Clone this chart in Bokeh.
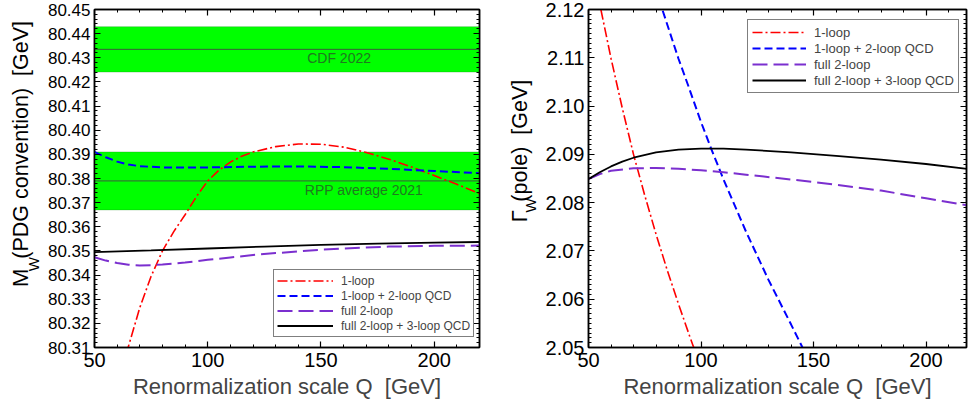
import math
from bokeh.plotting import figure
from bokeh.layouts import row
from bokeh.models import (Range1d, LinearAxis, SingleIntervalTicker, NumeralTickFormatter,
                          BoxAnnotation, Span, Label, CustomLabelingPolicy)
from bokeh.embed import file_html
from bokeh.resources import INLINE

FONT = "Liberation Sans"
H = 407

# ---------------- data: left panel (M_W, PDG convention) ----------------
mw_q_1l = [62, 65, 70, 75, 80, 85, 90, 95, 100, 105, 110, 115, 120, 130, 140, 150, 160, 170, 180, 190, 200, 210, 220]
mw_1l = [80.3000, 80.3105, 80.3265, 80.3395, 80.3500, 80.3580, 80.3650, 80.3725, 80.3790, 80.3835, 80.3868,
         80.3892, 80.3910, 80.3932, 80.3943, 80.3942, 80.3930, 80.3908, 80.3880, 80.3848, 80.3812, 80.3776, 80.3738]
mw_q_1l2q = [50, 55, 60, 65, 70, 80, 90, 100, 120, 140, 160, 180, 200, 220]
mw_1l2q = [80.3910, 80.3888, 80.3870, 80.3858, 80.3851, 80.3846, 80.3845, 80.3846, 80.3849, 80.3850,
           80.3847, 80.3840, 80.3831, 80.3822]
mw_q_2l = [50, 55, 60, 65, 70, 75, 80, 90, 100, 110, 120, 130, 140, 150, 165, 180, 200, 220]
mw_2l = [80.3474, 80.3460, 80.3450, 80.3443, 80.3440, 80.3441, 80.3444, 80.3452, 80.3463, 80.3473, 80.3483,
         80.3491, 80.3498, 80.3505, 80.3512, 80.3518, 80.3521, 80.3522]
mw_q_2l3q = [50, 75, 100, 125, 150, 175, 200, 220]
mw_2l3q = [80.3495, 80.3502, 80.3510, 80.3518, 80.3525, 80.3530, 80.3534, 80.3537]

cdf_value, cdf_err = 80.4335, 0.0094
rpp_value, rpp_err = 80.379, 0.012

# ---------------- data: right panel (Gamma_W, pole) ----------------
gw_q_1l = [54, 55.5, 60, 65, 70, 75, 80, 85, 90, 95, 97, 100]
gw_1l = [2.1236, 2.1200, 2.1099, 2.0996, 2.0900, 2.0815, 2.0735, 2.0660, 2.0590, 2.0523, 2.0497, 2.0460]
gw_q_1l2q = [80, 82.8, 90, 94.5, 100, 104.5, 110, 120, 130, 140, 145, 150]
gw_1l2q = [2.1245, 2.1200, 2.1098, 2.1040, 2.0967, 2.0912, 2.0848, 2.0740, 2.0640, 2.0548, 2.0501, 2.0462]
gw_q_2l = [50, 55, 60, 70, 80, 90, 100, 110, 120, 140, 160, 180, 200, 220]
gw_2l = [2.0849, 2.0859, 2.0866, 2.0871, 2.0872, 2.0870, 2.0867, 2.0863, 2.0858, 2.0848, 2.0837, 2.0825,
         2.0809, 2.0793]
gw_q_2l3q = [50, 55, 60, 65, 70, 80, 90, 100, 110, 120, 140, 160, 180, 200, 220]
gw_2l3q = [2.0849, 2.0863, 2.0875, 2.0885, 2.0893, 2.0904, 2.0910, 2.0912, 2.0912, 2.0910, 2.0904, 2.0897,
           2.0889, 2.0880, 2.0869]

legend_labels = ["1-loop", "1-loop + 2-loop QCD", "full 2-loop", "full 2-loop + 3-loop QCD"]
colors = ["#ff0000", "#0000ff", "#7b2fcf", "#000000"]
dashes = ["10 3 2 3", "8 4", "15 6", "solid"]
widths = [1.6, 2.0, 2.0, 1.8]

HIDE_ALL = "for (let i = 0; i < indices.size; i++) { indices.set(i, false) }\nreturn indices"


def style_axis(ax, ticker, fmt, size, show_labels=True):
    ax.ticker = ticker
    if fmt is not None:
        ax.formatter = fmt
    ax.major_tick_in = 6
    ax.major_tick_out = 0
    ax.minor_tick_in = 3
    ax.minor_tick_out = 0
    ax.axis_line_width = 1.5
    ax.axis_line_color = "black"
    ax.major_tick_line_width = 1.2
    ax.minor_tick_line_width = 1.0
    ax.major_tick_line_color = "black"
    ax.minor_tick_line_color = "black"
    ax.major_label_text_font = FONT
    ax.major_label_text_color = "black"
    if show_labels:
        ax.major_label_text_font_size = size
    else:
        ax.major_label_text_font_size = "1px"
        ax.major_label_standoff = 0
        ax.major_label_policy = CustomLabelingPolicy(code=HIDE_ALL)


def make_panel(width, border_left, border_right, xr, yr, y_interval, y_minor, y_font, y_fmt):
    p = figure(width=width, height=H, x_range=Range1d(*xr), y_range=Range1d(*yr),
               output_backend="svg", toolbar_location=None,
               min_border_left=border_left, min_border_right=border_right,
               min_border_top=9, min_border_bottom=60)
    p.xgrid.visible = False
    p.ygrid.visible = False
    p.outline_line_color = "black"
    p.outline_line_width = 1.5
    xt = SingleIntervalTicker(interval=50, num_minor_ticks=5)
    yt = SingleIntervalTicker(interval=y_interval, num_minor_ticks=y_minor)
    style_axis(p.xaxis[0], xt, NumeralTickFormatter(format="0"), "20px")
    p.xaxis[0].major_label_standoff = 5
    p.xaxis[0].axis_label = "Renormalization scale Q\u00a0 [GeV]"
    p.xaxis[0].axis_label_text_font = FONT
    p.xaxis[0].axis_label_text_font_size = "22px"
    p.xaxis[0].axis_label_text_font_style = "normal"
    p.xaxis[0].axis_label_standoff = 4
    style_axis(p.yaxis[0], yt, NumeralTickFormatter(format=y_fmt), y_font)
    p.yaxis[0].major_label_standoff = 4
    top = LinearAxis()
    style_axis(top, SingleIntervalTicker(interval=50, num_minor_ticks=5), None, "1px", show_labels=False)
    p.add_layout(top, "above")
    right = LinearAxis()
    style_axis(right, SingleIntervalTicker(interval=y_interval, num_minor_ticks=y_minor), None, "1px",
               show_labels=False)
    p.add_layout(right, "right")
    return p


def label_strip(width, pieces):
    """Narrow text-only figure holding a vertical axis title with a subscript.
    Each piece: (text, centre x, centre y, font size) in pixels from the strip's top-left corner."""
    s = figure(width=width, height=H, x_range=Range1d(0, width), y_range=Range1d(0, H),
               output_backend="svg", toolbar_location=None, min_border=0,
               x_axis_location=None, y_axis_location=None)
    s.xgrid.visible = False
    s.ygrid.visible = False
    s.outline_line_color = None
    for text, cx, cy, size in pieces:
        s.add_layout(Label(x=cx, y=H - cy, text=text, angle=math.pi / 2, text_font=FONT,
                           text_color="black", text_align="center", text_baseline="middle",
                           text_font_size=size))
    return s


def style_legend(p, loc, font_size, glyph_w, row_h, pad):
    lg = p.legend[0]
    lg.location = loc
    lg.label_text_font = FONT
    lg.label_text_font_size = font_size
    lg.glyph_width = glyph_w
    lg.glyph_height = row_h
    lg.label_height = row_h
    lg.label_standoff = 8
    lg.padding = pad
    lg.spacing = 0
    lg.margin = 0
    lg.border_line_color = "black"
    lg.border_line_width = 1
    lg.background_fill_alpha = 1.0


# ---------------- left panel ----------------
s1 = label_strip(44, [("M", 20.3, 323.0, "22px"),
                      ("W", 33.0, 306.8, "15px"),
                      ("(PDG convention)\u00a0\u00a0[GeV]", 20.3, 157.0, "21.5px")])
p1 = make_panel(446, 47, 11, (50, 220), (80.31, 80.45), 0.01, 5, "17px", "0.00")

for val, err in [(cdf_value, cdf_err), (rpp_value, rpp_err)]:
    p1.add_layout(BoxAnnotation(bottom=val - err, top=val + err, fill_color="#00ff00", fill_alpha=1.0,
                                line_color="#138a13", line_width=1, level="underlay"))
    p1.add_layout(Span(location=val, dimension="width", line_color="#3d5a3d", line_width=1, level="underlay"))

band_text = dict(text_font=FONT, text_font_size="14px", text_color="#1f7a1f", text_align="center",
                 text_baseline="middle")
p1.add_layout(Label(x=158, y=cdf_value - 0.0034, text="CDF 2022", **band_text))
p1.add_layout(Label(x=169, y=rpp_value - 0.0036, text="RPP average 2021", **band_text))

left_series = [(mw_q_1l, mw_1l), (mw_q_1l2q, mw_1l2q), (mw_q_2l, mw_2l), (mw_q_2l3q, mw_2l3q)]
for (q, v), lab, c, d, w in zip(left_series, legend_labels, colors, dashes, widths):
    p1.line(q, v, line_color=c, line_dash=d, line_width=w, legend_label=lab)
style_legend(p1, (179, 10), "12px", 56, 15, 3)

# ---------------- right panel ----------------
s2 = label_strip(50, [("\u0393", 29.3, 249.0, "22px"),
                      ("W", 40.0, 235.8, "15px"),
                      ("(pole)\u00a0\u00a0[GeV]", 29.3, 158.0, "21.5px")])
p2 = make_panel(431, 48, 0, (50, 218), (2.05, 2.12), 0.01, 10, "20px", "0.00")
right_series = [(gw_q_1l, gw_1l), (gw_q_1l2q, gw_1l2q), (gw_q_2l, gw_2l), (gw_q_2l3q, gw_2l3q)]
for (q, v), lab, c, d, w in zip(right_series, legend_labels, colors, dashes, widths):
    p2.line(q, v, line_color=c, line_dash=d, line_width=w, legend_label=lab)
style_legend(p2, (159, 254), "13px", 54, 16, 4)

layout = row(s1, p1, s2, p2)
open("out.html", "w").write(file_html(layout, INLINE))
